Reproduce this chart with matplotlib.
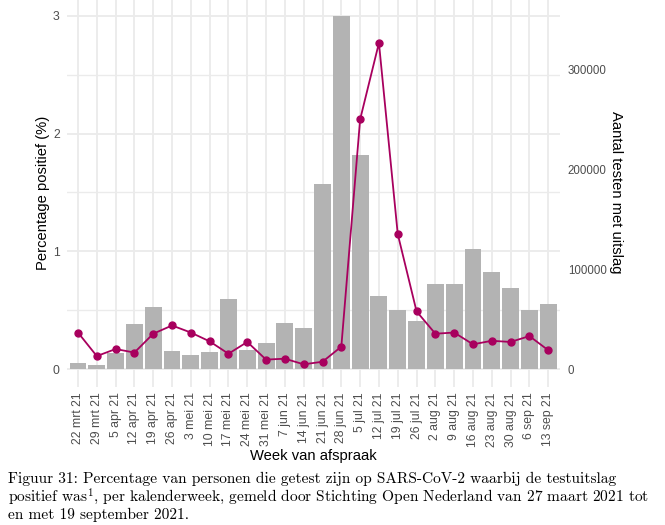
import matplotlib
matplotlib.use('Agg')
import matplotlib.pyplot as plt
import numpy as np

weeks = ["22 mrt 21", "29 mrt 21", "5 apr 21", "12 apr 21", "19 apr 21", "26 apr 21",
         "3 mei 21", "10 mei 21", "17 mei 21", "24 mei 21", "31 mei 21", "7 jun 21",
         "14 jun 21", "21 jun 21", "28 jun 21", "5 jul 21", "12 jul 21", "19 jul 21",
         "26 jul 21", "2 aug 21", "9 aug 21", "16 aug 21", "23 aug 21", "30 aug 21",
         "6 sep 21", "13 sep 21"]
tests = [6000, 4000, 16000, 45000, 62000, 18000, 14000, 17000, 70000, 19000,
         26000, 46000, 41000, 185500, 354000, 214500, 73000, 59000, 48000, 85000,
         85000, 120000, 97000, 81000, 59000, 65000]
pct_pos = [0.31, 0.11, 0.17, 0.14, 0.30, 0.37, 0.31, 0.235, 0.13, 0.23,
           0.08, 0.088, 0.04, 0.062, 0.19, 2.12, 2.77, 1.147, 0.49, 0.30,
           0.31, 0.21, 0.24, 0.23, 0.28, 0.16]
pct_ticks = [0, 1, 2, 3]
test_ticks = [0, 100000, 200000, 300000]

plt.rcParams['font.family'] = ['Liberation Sans', 'DejaVu Sans']
plt.rcParams['mathtext.fontset'] = 'cm'

W, H = 665, 525
fig = plt.figure(figsize=(W / 100, H / 100), dpi=100)
fig.patch.set_facecolor('white')

x0, x1 = 66.7, 559.5
ytop, ybot = -1.8, 386.7
rect = [x0 / W, 1 - ybot / H, (x1 - x0) / W, (ybot - ytop) / H]
ax = fig.add_axes(rect)
ax2 = ax.twinx()

scale = max(tests) / 3.0
x = np.arange(len(weeks))
ylo, yhi = -0.15, 3.15
ax.set_ylim(ylo, yhi)
ax2.set_ylim(ylo * scale, yhi * scale)
ax.set_xlim(-0.6, len(weeks) - 0.4)

gridc = '#EBEBEB'
# grid behind bars (drawn on lower axes)
for xi in x:
    ax2.axvline(xi, color=gridc, lw=1.3, zorder=0)
for v in np.arange(0, 3.01, 0.5):
    ax2.axhline(v * scale, color=gridc, lw=1.3 if v % 1 == 0 else 1.0, zorder=0)

ax2.bar(x, tests, width=0.9, color='#B3B3B3', zorder=2)

ax.set_zorder(ax2.get_zorder() + 1)
ax.patch.set_visible(False)
ax.plot(x, pct_pos, color='#A8005E', lw=1.3, marker='o', markersize=5, zorder=3)

for a in (ax, ax2):
    for s in a.spines.values():
        s.set_visible(False)
    a.tick_params(length=0, labelcolor='#4D4D4D', labelsize=8.8)

ax.set_yticks(pct_ticks)
ax.set_yticklabels([str(t) for t in pct_ticks])
ax.tick_params(axis='y', pad=5)
ax2.set_yticks(test_ticks)
ax2.set_yticklabels([str(t) for t in test_ticks])
ax2.tick_params(axis='y', pad=6, labelsize=8.3)

ax.set_xticks(x)
ax.set_xticklabels(weeks, rotation=90, ha='center', va='top')
ax.tick_params(axis='x', pad=4)

ax.set_ylabel('Percentage positief (%)', fontsize=10.6, color='black')
ax.yaxis.set_label_coords((50 - x0) / (x1 - x0), 0.5)
ax2.set_ylabel('Aantal testen met uitslag', fontsize=10.6, color='black', rotation=270)
ax2.yaxis.set_label_coords((623 - x0) / (x1 - x0), 0.5)

fig.text((x0 + x1) / 2 / W, 1 - 460 / H, 'Week van afspraak', fontsize=10.6,
         ha='center', va='baseline', color='black')

cap = dict(family='cmr10', fontsize=11.1, ha='left', va='baseline', color='black')
fig.text(8.3 / W, 1 - 483.5 / H,
         'Figuur 31: Percentage van personen die getest zijn op SARS-CoV-2 waarbij de testuitslag', **cap)
fig.text(8.3 / W, 1 - 501.5 / H,
         'positief was$^1$, per kalenderweek, gemeld door Stichting Open Nederland van 27 maart 2021 tot', **cap)
fig.text(8.3 / W, 1 - 518.5 / H, 'en met 19 september 2021.', **cap)

fig.savefig('out.png', dpi=100, facecolor='white')
